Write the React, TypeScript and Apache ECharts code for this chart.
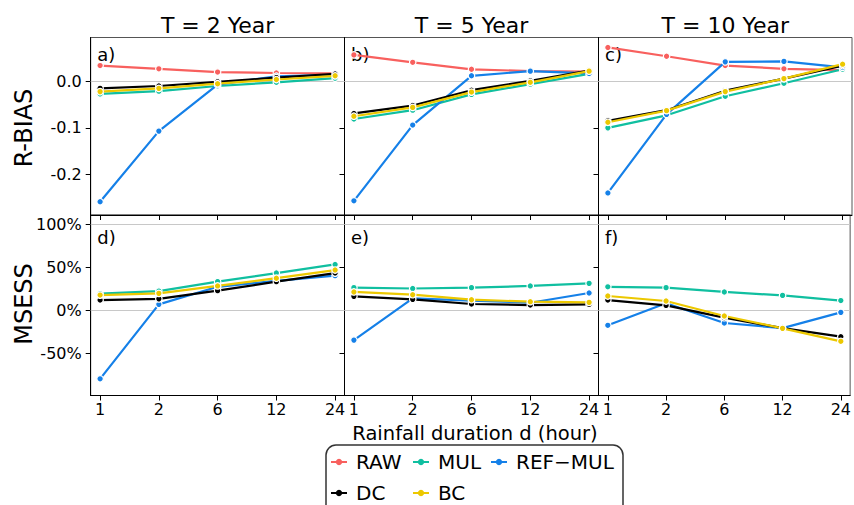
import React, { useEffect, useRef } from "react";
import * as echarts from "echarts";

// ---- data ----
const durations = ["1", "2", "6", "12", "24"];
const periods = ["T = 2 Year", "T = 5 Year", "T = 10 Year"];
const seriesNames = ["RAW", "MUL", "REF\u2212MUL", "DC", "BC"];
const seriesColors = ["#F8605E", "#10BFA0", "#1580E8", "#000000", "#ECC800"];
const rbiasTicks = [-0.2, -0.1, 0.0];
const msessTicks = [-0.5, 0, 0.5, 1.0];
const topLetters = ["a)", "b)", "c)"];
const bottomLetters = ["d)", "e)", "f)"];

// R-BIAS per return period [T2, T5, T10]
const rbiasRAW = [
  [0.034, 0.027, 0.020, 0.018, 0.017],
  [0.057, 0.041, 0.026, 0.022, 0.021],
  [0.073, 0.054, 0.034, 0.027, 0.024],
];
const rbiasMUL = [
  [-0.027, -0.021, -0.010, -0.002, 0.007],
  [-0.081, -0.062, -0.028, -0.006, 0.016],
  [-0.100, -0.073, -0.032, -0.004, 0.026],
];
const rbiasREFMUL = [
  [-0.259, -0.107, -0.007, 0.011, 0.014],
  [-0.257, -0.094, 0.012, 0.022, 0.017],
  [-0.240, -0.071, 0.042, 0.043, 0.030],
];
const rbiasDC = [
  [-0.015, -0.010, -0.001, 0.008, 0.016],
  [-0.069, -0.052, -0.019, 0.001, 0.023],
  [-0.085, -0.062, -0.020, 0.006, 0.034],
];
const rbiasBC = [
  [-0.022, -0.015, -0.005, 0.004, 0.012],
  [-0.075, -0.056, -0.023, -0.002, 0.022],
  [-0.088, -0.063, -0.022, 0.006, 0.037],
];

// MSESS per return period [T2, T5, T10] (fractions)
const msessMUL = [
  [0.19, 0.22, 0.33, 0.43, 0.53],
  [0.26, 0.25, 0.26, 0.28, 0.31],
  [0.27, 0.26, 0.21, 0.17, 0.11],
];
const msessREFMUL = [
  [-0.80, 0.066, 0.27, 0.34, 0.40],
  [-0.35, 0.136, 0.109, 0.085, 0.198],
  [-0.178, 0.078, -0.151, -0.21, -0.027],
];
const msessDC = [
  [0.116, 0.13, 0.225, 0.33, 0.43],
  [0.159, 0.124, 0.07, 0.058, 0.066],
  [0.116, 0.054, -0.089, -0.21, -0.31],
];
const msessBC = [
  [0.174, 0.194, 0.28, 0.37, 0.465],
  [0.21, 0.178, 0.12, 0.097, 0.089],
  [0.163, 0.105, -0.07, -0.213, -0.364],
];

const FONT = "DejaVu Sans";

export default function App() {
  const ref = useRef<HTMLDivElement>(null);

  useEffect(() => {
    if (!ref.current) return;
    const chart = echarts.init(ref.current, undefined, { renderer: "svg" });

    const colLefts = [90.7, 344.5, 598.5];
    const colWidths = [253.8, 254, 253.5];
    const rowTops = [37.5, 215];
    const rowHeights = [177.5, 180.5];

    const grids: any[] = [];
    const xAxes: any[] = [];
    const yAxes: any[] = [];
    const series: any[] = [];
    const graphics: any[] = [];

    const rbiasSets = [rbiasRAW, rbiasMUL, rbiasREFMUL, rbiasDC, rbiasBC];
    const msessSets = [null, msessMUL, msessREFMUL, msessDC, msessBC];

    for (let r = 0; r < 2; r++) {
      for (let c = 0; c < 3; c++) {
        const idx = r * 3 + c;
        grids.push({
          left: colLefts[c],
          top: rowTops[r],
          width: colWidths[c],
          height: rowHeights[r],
          show: true,
          borderColor: "#555",
          borderWidth: 1,
          backgroundColor: "transparent",
        });
        xAxes.push({
          type: "value",
          gridIndex: idx,
          min: -0.16,
          max: 4.16,
          axisLine: { show: true, onZero: false, lineStyle: { color: "#000", width: 1 } },
          axisTick: {
            show: true,
            length: 5,
            customValues: [0, 1, 2, 3, 4],
            lineStyle: { color: "#000" },
          },
          axisLabel: {
            show: r === 1,
            customValues: [0, 1, 2, 3, 4],
            formatter: (v: number) => durations[Math.round(v)],
            fontFamily: FONT,
            fontSize: 16,
            color: "#000",
            margin: 6,
          },
          splitLine: { show: false },
        });
        const ticks = r === 0 ? rbiasTicks : msessTicks;
        yAxes.push({
          type: "value",
          gridIndex: idx,
          min: r === 0 ? -0.2875 : -0.994,
          max: r === 0 ? 0.0944 : 1.105,
          axisLine: { show: true, onZero: false, lineStyle: { color: "#000", width: 1 } },
          axisTick: {
            show: true,
            length: 5,
            customValues: ticks,
            lineStyle: { color: "#000" },
          },
          axisLabel: {
            show: c === 0,
            customValues: ticks,
            formatter: (v: number) =>
              r === 0 ? v.toFixed(1) : Math.round(v * 100) + "%",
            fontFamily: FONT,
            fontSize: 16,
            color: "#000",
            margin: 9,
          },
          splitLine: { show: false },
        });

        const sets = r === 0 ? rbiasSets : msessSets;
        let first = true;
        sets.forEach((set, si) => {
          if (!set) return;
          const s: any = {
            type: "line",
            name: seriesNames[si],
            xAxisIndex: idx,
            yAxisIndex: idx,
            data: set[c].map((v: number, i: number) => [i, v]),
            symbol: "circle",
            symbolSize: 6.5,
            showSymbol: true,
            lineStyle: { width: 2.2, color: seriesColors[si] },
            itemStyle: { color: seriesColors[si], borderColor: "#fff", borderWidth: 1.2 },
            emphasis: { disabled: true },
            z: 3 + si,
          };
          if (first) {
            s.markLine = {
              silent: true,
              symbol: "none",
              label: { show: false },
              lineStyle: { color: "#c8c8c8", type: "solid", width: 1.2 },
              data: r === 0 ? [{ yAxis: 0 }] : [{ yAxis: 0 }, { yAxis: 1 }],
              z: 1,
            };
            first = false;
          }
          series.push(s);
        });

        graphics.push({
          type: "text",
          x: colLefts[c] + 6.5,
          y: r === 0 ? 54 : 237,
          style: {
            text: r === 0 ? topLetters[c] : bottomLetters[c],
            fontFamily: FONT,
            fontSize: 18,
            fill: "#000",
            align: "left",
            verticalAlign: "middle",
          },
        });
      }
    }

    periods.forEach((p, c) => {
      graphics.push({
        type: "text",
        x: colLefts[c] + colWidths[c] / 2,
        y: 25,
        style: {
          text: p,
          fontFamily: FONT,
          fontSize: 22,
          fill: "#000",
          align: "center",
          verticalAlign: "middle",
        },
      });
    });

    graphics.push({
      type: "text",
      x: 24,
      y: 128,
      rotation: Math.PI / 2,
      style: {
        text: "R-BIAS",
        fontFamily: FONT,
        fontSize: 24,
        fill: "#000",
        align: "center",
        verticalAlign: "middle",
      },
    });
    graphics.push({
      type: "text",
      x: 24,
      y: 304,
      rotation: Math.PI / 2,
      style: {
        text: "MSESS",
        fontFamily: FONT,
        fontSize: 24,
        fill: "#000",
        align: "center",
        verticalAlign: "middle",
      },
    });
    graphics.push({
      type: "text",
      x: 475,
      y: 433,
      style: {
        text: "Rainfall duration d (hour)",
        fontFamily: FONT,
        fontSize: 19.5,
        fill: "#000",
        align: "center",
        verticalAlign: "middle",
      },
    });
    graphics.push({
      type: "rect",
      shape: { x: 326, y: 445, width: 297, height: 80, r: 10 },
      style: { fill: "none", stroke: "#333", lineWidth: 1.5 },
      z: 0,
    });

    // legend: one component per item so they sit on a 3-column layout
    const legendPos = [
      { left: 330, top: 452 },
      { left: 412, top: 452 },
      { left: 490, top: 452 },
      { left: 330, top: 483 },
      { left: 412, top: 483 },
    ];
    const legends = seriesNames.map((name, i) => ({
      data: [name],
      left: legendPos[i].left,
      top: legendPos[i].top,
      itemWidth: 16,
      itemHeight: 8,
      padding: 0,
      selectedMode: false,
      itemStyle: { borderWidth: 0 },
      lineStyle: { width: 2 },
      textStyle: {
        fontFamily: FONT,
        fontSize: 20,
        color: "#000",
        padding: [0, 0, 0, 4],
      },
    }));

    chart.setOption({
      animation: false,
      backgroundColor: "#fff",
      grid: grids,
      xAxis: xAxes,
      yAxis: yAxes,
      series,
      legend: legends,
      graphic: graphics,
    });

    return () => chart.dispose();
  }, []);

  return (
    <div
      ref={ref}
      style={{ position: "fixed", left: 0, top: 0, width: 854, height: 505 }}
    />
  );
}
